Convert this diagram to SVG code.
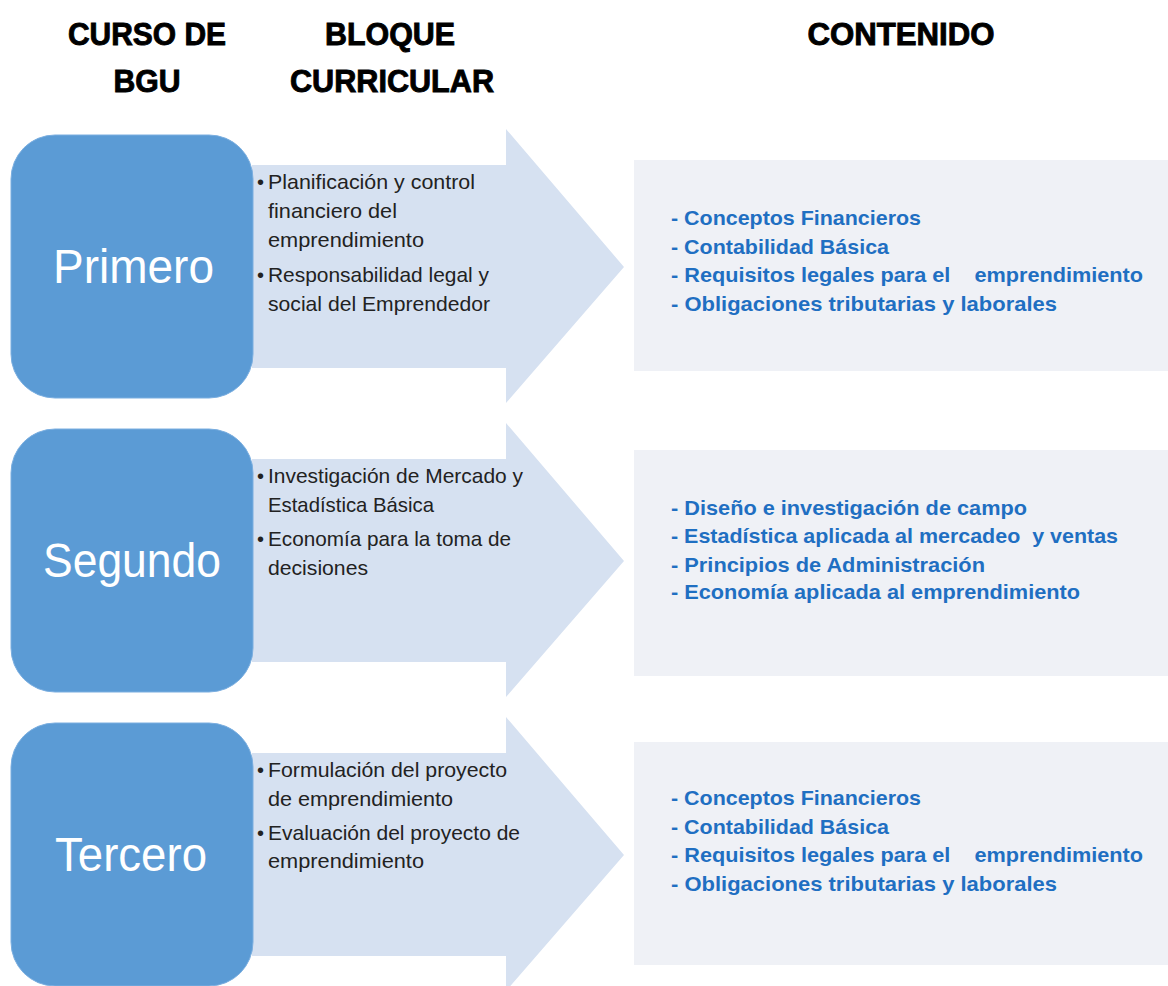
<svg xmlns="http://www.w3.org/2000/svg" width="1168" height="986" viewBox="0 0 1168 986">
<style>
.hdr{font-family:"Liberation Sans",Arial,sans-serif;font-weight:bold;font-size:31px;fill:#000;stroke:#000;stroke-width:0.9;text-anchor:middle}
.curso{fill:#5b9bd5;stroke:#7aaee0;stroke-width:1}
.lbl{font-family:"Liberation Sans",Arial,sans-serif;font-size:48px;fill:#fff}
.arrow{fill:#d6e1f1}
.bl{font-family:"Liberation Sans",Arial,sans-serif;font-size:21px;fill:#222}
.dot{font-family:"Liberation Sans",Arial,sans-serif;font-size:20px;fill:#222}
.cbox{fill:#eff1f6}
.ct{font-family:"Liberation Sans",Arial,sans-serif;font-weight:bold;font-size:21px;fill:#1f6fc2;white-space:pre}
</style>
<rect width="1168" height="986" fill="#fff"/>
<g id="headers">
<text class="hdr" x="147" y="45" textLength="158" lengthAdjust="spacingAndGlyphs">CURSO DE</text>
<text class="hdr" x="147" y="92" textLength="67" lengthAdjust="spacingAndGlyphs">BGU</text>
<text class="hdr" x="390" y="45" textLength="130" lengthAdjust="spacingAndGlyphs">BLOQUE</text>
<text class="hdr" x="392" y="92" textLength="204" lengthAdjust="spacingAndGlyphs">CURRICULAR</text>
<text class="hdr" x="901" y="45" textLength="187" lengthAdjust="spacingAndGlyphs">CONTENIDO</text>
</g>

<g id="bloque1">
<path class="arrow" d="M252 165 H506 V129 L624 267 L506 403 V368 H252 Z"/>
<text class="dot" x="257" y="189">•</text>
<text class="bl" x="268" y="189" textLength="207" lengthAdjust="spacingAndGlyphs">Planificación y control</text>
<text class="bl" x="268" y="218" textLength="129" lengthAdjust="spacingAndGlyphs">financiero del</text>
<text class="bl" x="268" y="247" textLength="156" lengthAdjust="spacingAndGlyphs">emprendimiento</text>
<text class="dot" x="257" y="282">•</text>
<text class="bl" x="268" y="282" textLength="221" lengthAdjust="spacingAndGlyphs">Responsabilidad legal y</text>
<text class="bl" x="268" y="311" textLength="222" lengthAdjust="spacingAndGlyphs">social del Emprendedor</text>
</g>
<g id="curso1">
<rect class="curso" x="11" y="135" width="242" height="263" rx="44"/>
<text class="lbl" x="53" y="283" textLength="161" lengthAdjust="spacingAndGlyphs">Primero</text>
</g>
<g id="contenido1">
<rect class="cbox" x="634" y="160" width="534" height="211"/>
<text class="ct" x="671" y="225" textLength="250" lengthAdjust="spacingAndGlyphs">- Conceptos Financieros</text>
<text class="ct" x="671" y="254" textLength="218" lengthAdjust="spacingAndGlyphs">- Contabilidad Básica</text>
<text class="ct" x="671" y="282" textLength="472" lengthAdjust="spacingAndGlyphs" xml:space="preserve">- Requisitos legales para el    emprendimiento</text>
<text class="ct" x="671" y="311" textLength="386" lengthAdjust="spacingAndGlyphs">- Obligaciones tributarias y laborales</text>
</g>

<g id="bloque2">
<path class="arrow" d="M252 459 H506 V423 L624 561 L506 697 V662 H252 Z"/>
<text class="dot" x="257" y="483">•</text>
<text class="bl" x="268" y="483" textLength="255" lengthAdjust="spacingAndGlyphs">Investigación de Mercado y</text>
<text class="bl" x="268" y="512" textLength="166" lengthAdjust="spacingAndGlyphs">Estadística Básica</text>
<text class="dot" x="257" y="546">•</text>
<text class="bl" x="268" y="546" textLength="243" lengthAdjust="spacingAndGlyphs">Economía para la toma de</text>
<text class="bl" x="268" y="575" textLength="100" lengthAdjust="spacingAndGlyphs">decisiones</text>
</g>
<g id="curso2">
<rect class="curso" x="11" y="429" width="242" height="263" rx="44"/>
<text class="lbl" x="43" y="577" textLength="178" lengthAdjust="spacingAndGlyphs">Segundo</text>
</g>
<g id="contenido2">
<rect class="cbox" x="634" y="450" width="534" height="226"/>
<text class="ct" x="671" y="515" textLength="356" lengthAdjust="spacingAndGlyphs">- Diseño e investigación de campo</text>
<text class="ct" x="671" y="543" textLength="447" lengthAdjust="spacingAndGlyphs" xml:space="preserve">- Estadística aplicada al mercadeo  y ventas</text>
<text class="ct" x="671" y="572" textLength="314" lengthAdjust="spacingAndGlyphs">- Principios de Administración</text>
<text class="ct" x="671" y="599" textLength="409" lengthAdjust="spacingAndGlyphs">- Economía aplicada al emprendimiento</text>
</g>

<g id="bloque3">
<path class="arrow" d="M252 753 H506 V717 L624 855 L506 991 V956 H252 Z"/>
<text class="dot" x="257" y="777">•</text>
<text class="bl" x="268" y="777" textLength="239" lengthAdjust="spacingAndGlyphs">Formulación del proyecto</text>
<text class="bl" x="268" y="806" textLength="185" lengthAdjust="spacingAndGlyphs">de emprendimiento</text>
<text class="dot" x="257" y="840">•</text>
<text class="bl" x="268" y="840" textLength="252" lengthAdjust="spacingAndGlyphs">Evaluación del proyecto de</text>
<text class="bl" x="268" y="868" textLength="156" lengthAdjust="spacingAndGlyphs">emprendimiento</text>
</g>
<g id="curso3">
<rect class="curso" x="11" y="723" width="242" height="263" rx="44"/>
<text class="lbl" x="55" y="871" textLength="152" lengthAdjust="spacingAndGlyphs">Tercero</text>
</g>
<g id="contenido3">
<rect class="cbox" x="634" y="742" width="534" height="223"/>
<text class="ct" x="671" y="805" textLength="250" lengthAdjust="spacingAndGlyphs">- Conceptos Financieros</text>
<text class="ct" x="671" y="834" textLength="218" lengthAdjust="spacingAndGlyphs">- Contabilidad Básica</text>
<text class="ct" x="671" y="862" textLength="472" lengthAdjust="spacingAndGlyphs" xml:space="preserve">- Requisitos legales para el    emprendimiento</text>
<text class="ct" x="671" y="891" textLength="386" lengthAdjust="spacingAndGlyphs">- Obligaciones tributarias y laborales</text>
</g>
</svg>
